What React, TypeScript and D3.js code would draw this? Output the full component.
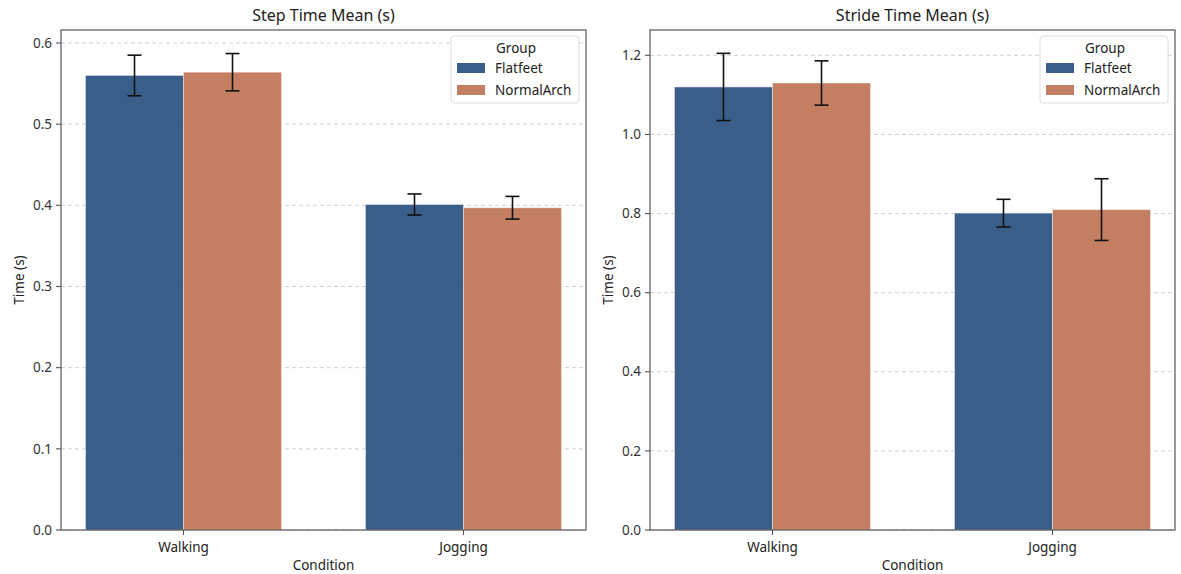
import React from "react";
import * as d3 from "d3";

const conditions = ["Walking", "Jogging"];
const groups = ["Flatfeet", "NormalArch"];
const colors = ["#3a5e8a", "#c47f62"];

// Step time mean (s): [Walking, Jogging]
const stepFlatfeet = [0.56, 0.401];
const stepFlatfeetErr = [0.025, 0.013];
const stepNormal = [0.564, 0.397];
const stepNormalErr = [0.023, 0.014];

// Stride time mean (s)
const strideFlatfeet = [1.12, 0.801];
const strideFlatfeetErr = [0.085, 0.035];
const strideNormal = [1.13, 0.81];
const strideNormalErr = [0.056, 0.078];

const stepTicks = [0.0, 0.1, 0.2, 0.3, 0.4, 0.5, 0.6];
const strideTicks = [0.0, 0.2, 0.4, 0.6, 0.8, 1.0, 1.2];

const FONT = "'Noto Sans', 'DejaVu Sans', sans-serif";

type PanelProps = {
  left: number;
  right: number;
  top: number;
  bottom: number;
  title: string;
  ymax: number;
  ticks: number[];
  values: number[][];
  errs: number[][];
};

function Panel({ left, right, top, bottom, title, ymax, ticks, values, errs }: PanelProps) {
  const x = d3.scaleLinear().domain([-0.4375, 1.4375]).range([left, right]);
  const y = d3.scaleLinear().domain([0, ymax]).range([bottom, top]);
  const bw = 0.35;
  const lx = right - 135;
  const ly = top + 6;
  return (
    <g>
      {ticks.map((t) => (
        <line key={"g" + t} x1={left} x2={right} y1={y(t)} y2={y(t)} stroke="#cccccc" strokeDasharray="4,3" strokeWidth={0.9} />
      ))}
      {groups.map((g, gi) =>
        conditions.map((c, ci) => {
          const x0 = gi === 0 ? x(ci - bw) : x(ci);
          const x1 = gi === 0 ? x(ci) : x(ci + bw);
          return (
            <rect key={g + c} x={x0} y={y(values[gi][ci])} width={x1 - x0} height={bottom - y(values[gi][ci])} fill={colors[gi]} stroke="#ffffff" strokeOpacity={0.4} strokeWidth={1} />
          );
        })
      )}
      {groups.map((g, gi) =>
        conditions.map((c, ci) => {
          const cx = x(ci + (gi === 0 ? -bw / 2 : bw / 2));
          const v = values[gi][ci];
          const e = errs[gi][ci];
          return (
            <g key={"e" + g + c} stroke="#111111" strokeWidth={1.6}>
              <line x1={cx} x2={cx} y1={y(v - e)} y2={y(v + e)} />
              <line x1={cx - 7} x2={cx + 7} y1={y(v - e)} y2={y(v - e)} />
              <line x1={cx - 7} x2={cx + 7} y1={y(v + e)} y2={y(v + e)} />
            </g>
          );
        })
      )}
      <rect x={left} y={top} width={right - left} height={bottom - top} fill="none" stroke="#555555" strokeWidth={1.2} />
      {ticks.map((t) => (
        <g key={"t" + t}>
          <line x1={left - 5} x2={left} y1={y(t)} y2={y(t)} stroke="#555555" strokeWidth={1.1} />
          <text x={left - 9} y={y(t)} dy="0.35em" textAnchor="end" fontSize={13.5} fill="#333">
            {t.toFixed(1)}
          </text>
        </g>
      ))}
      {conditions.map((c, ci) => (
        <g key={"x" + c}>
          <line x1={x(ci)} x2={x(ci)} y1={bottom} y2={bottom + 5} stroke="#555555" strokeWidth={1.1} />
          <text x={x(ci)} y={bottom + 22} textAnchor="middle" fontSize={13.5} fill="#222">
            {c}
          </text>
        </g>
      ))}
      <text x={(left + right) / 2} y={top - 9} textAnchor="middle" fontSize={16} fill="#222">
        {title}
      </text>
      <text x={(left + right) / 2} y={bottom + 40} textAnchor="middle" fontSize={13.5} fill="#222">
        Condition
      </text>
      <text transform={`translate(${left - 37},${(top + bottom) / 2}) rotate(-90)`} textAnchor="middle" fontSize={13.5} fill="#222">
        Time (s)
      </text>
      <g>
        <rect x={lx} y={ly} width={128} height={67} rx={3} fill="#ffffff" fillOpacity={0.85} stroke="#dddddd" />
        <text x={lx + 65} y={ly + 17} textAnchor="middle" fontSize={13.5} fill="#222">
          Group
        </text>
        {groups.map((g, gi) => (
          <g key={"l" + g}>
            <rect x={lx + 6} y={ly + 27 + gi * 22} width={28} height={10} fill={colors[gi]} />
            <text x={lx + 44} y={ly + 32 + gi * 22} dy="0.35em" fontSize={13.5} fill="#222">
              {g}
            </text>
          </g>
        ))}
      </g>
    </g>
  );
}

export default function App() {
  return (
    <svg width={1181} height={574} style={{ position: "absolute", left: 0, top: 0, fontFamily: FONT }}>
      <rect width={1181} height={574} fill="#ffffff" />
      <Panel
        left={61}
        right={586}
        top={30}
        bottom={530}
        title="Step Time Mean (s)"
        ymax={0.616}
        ticks={stepTicks}
        values={[stepFlatfeet, stepNormal]}
        errs={[stepFlatfeetErr, stepNormalErr]}
      />
      <Panel
        left={650}
        right={1175}
        top={30}
        bottom={530}
        title="Stride Time Mean (s)"
        ymax={1.264}
        ticks={strideTicks}
        values={[strideFlatfeet, strideNormal]}
        errs={[strideFlatfeetErr, strideNormalErr]}
      />
    </svg>
  );
}
